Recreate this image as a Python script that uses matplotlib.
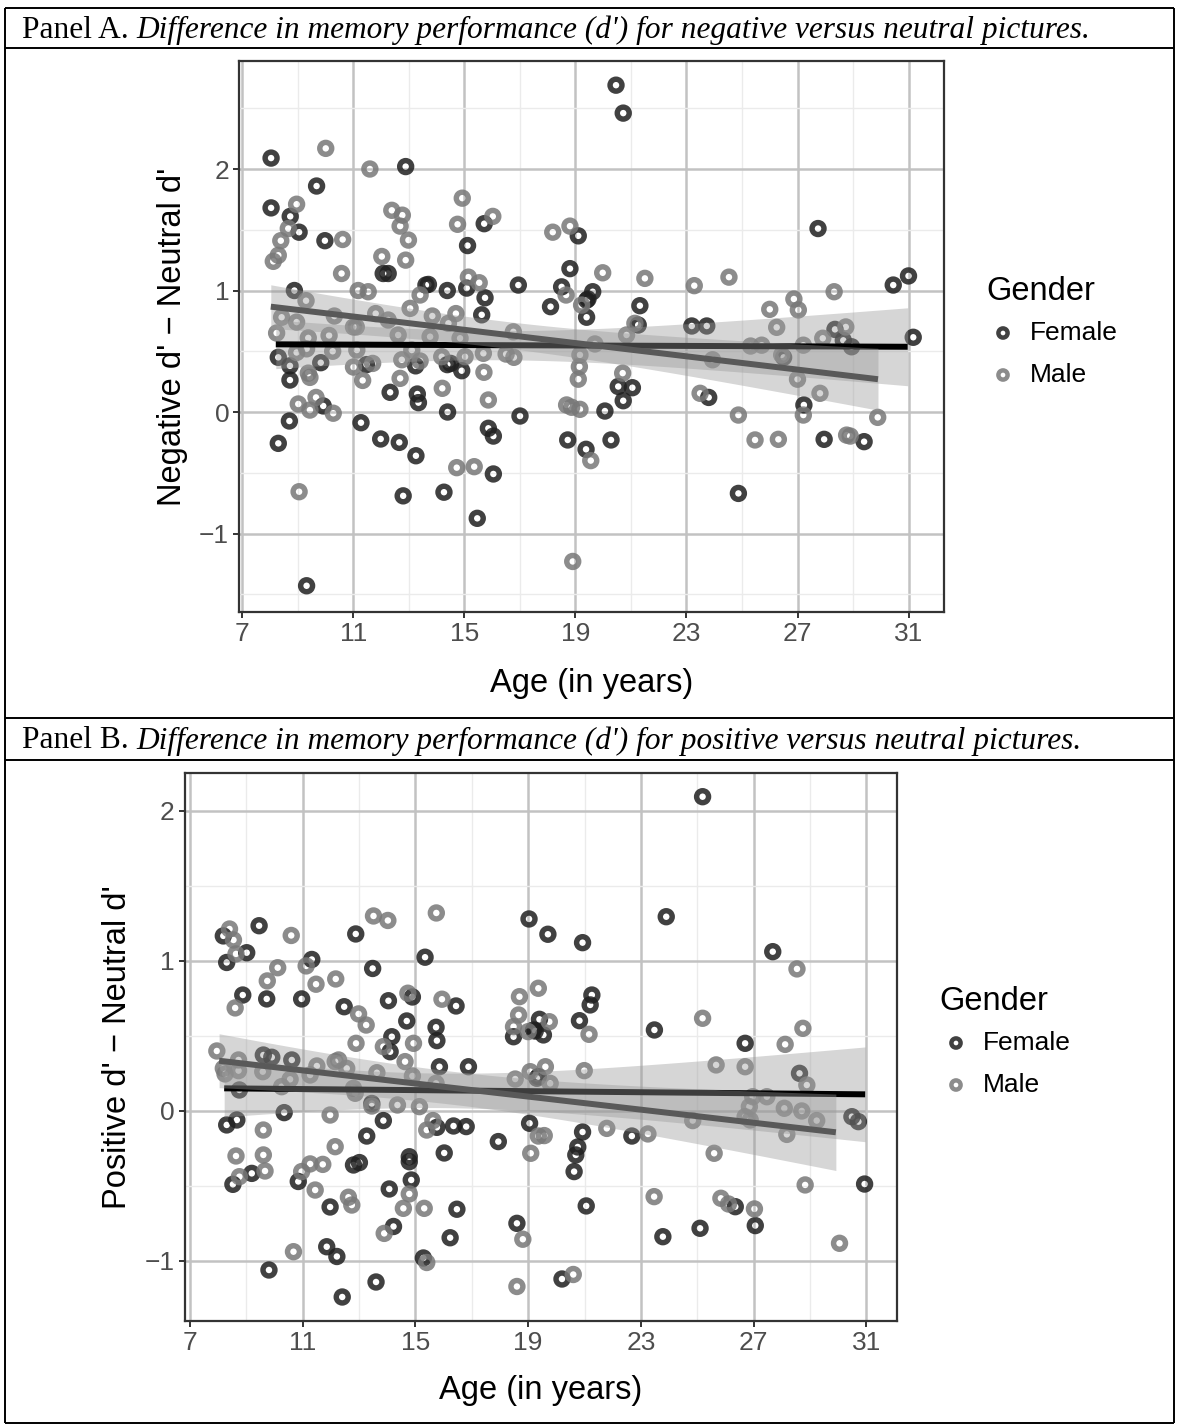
import numpy as np
import matplotlib
matplotlib.use('Agg')
import matplotlib.pyplot as plt

# ---------------- data ----------------
genders = ['Female', 'Male']

a_female_age = [8.03, 8.03, 8.72, 9.04, 9.67, 9.97, 12.07, 12.25, 12.88, 13.61, 13.70, 14.38, 15.08, 15.11,
                15.71, 15.74, 15.62, 16.94, 18.1, 18.5, 18.8, 19.1, 19.4, 19.45, 19.4, 19.62, 8.87, 20.46,
                20.72, 27.74, 30.45, 31.0, 21.32, 21.26, 23.19, 23.73, 28.35, 31.17, 8.29, 8.71, 8.71, 9.82,
                9.91, 8.69, 8.29, 9.31, 11.27, 11.47, 12.32, 11.98, 12.65, 13.25, 12.79, 13.24, 13.30, 13.34,
                14.38, 14.5, 14.9, 14.39, 14.26, 15.46, 15.86, 16.04, 16.04, 17.0, 18.72, 19.38, 20.28, 20.06,
                20.54, 21.05, 20.72, 23.8, 24.87, 27.23, 27.96, 29.40, 28.65, 28.95, 26.5]
a_female_val = [2.09, 1.68, 1.61, 1.48, 1.86, 1.41, 1.14, 1.14, 2.02, 1.045, 1.05, 1.00, 1.02, 1.37,
                1.55, 0.94, 0.80, 1.045, 0.867, 1.03, 1.18, 1.45, 0.92, 0.93, 0.78, 0.99, 1.0, 2.69,
                2.46, 1.51, 1.045, 1.12, 0.875, 0.716, 0.708, 0.708, 0.68, 0.615, 0.45, 0.38, 0.263, 0.406,
                0.05, -0.074, -0.258, -1.43, -0.088, 0.39, 0.162, -0.222, -0.25, -0.36, -0.69, 0.38, 0.148, 0.077,
                0.39, 0.40, 0.34, 0.0, -0.66, -0.875, -0.134, -0.198, -0.51, -0.033, -0.23, -0.307, -0.23, 0.008,
                0.21, 0.2, 0.093, 0.12, -0.67, 0.058, -0.225, -0.244, 0.59, 0.537, 0.45]

a_male_age = [10.0, 11.59, 8.95, 8.65, 8.38, 8.29, 8.11, 10.61, 10.57, 12.38, 12.76, 12.68, 12.98, 12.02,
              12.88, 14.92, 14.75, 16.02, 18.18, 18.80, 11.17, 11.53, 9.29, 8.41, 8.95, 8.23, 9.37, 10.12,
              10.31, 11.0, 11.1, 11.80, 12.25, 13.04, 13.40, 13.84, 14.42, 14.69, 15.14, 15.53, 12.61, 13.76,
              16.76, 18.66, 19.22, 19.98, 21.5, 23.28, 24.53, 26.87, 27.03, 26.0, 28.32, 26.25, 28.74, 20.84,
              21.14, 27.91, 8.95, 9.31, 10.25, 11.12, 11.0, 11.33, 11.69, 9.37, 9.43, 9.01, 9.43, 9.65,
              10.27, 9.04, 12.74, 12.68, 13.40, 13.10, 14.18, 14.2, 14.84, 15.02, 15.68, 15.70, 15.86, 14.72,
              15.35, 16.50, 16.78, 19.16, 19.14, 19.10, 18.68, 18.86, 19.16, 18.90, 19.55, 20.70, 23.49, 24.87,
              25.47, 26.31, 27.0, 27.81, 27.21, 28.77, 28.9, 29.89, 25.31, 25.71, 26.43, 27.21, 23.94, 19.70]
a_male_val = [2.17, 2.0, 1.71, 1.51, 1.41, 1.29, 1.24, 1.42, 1.14, 1.66, 1.62, 1.53, 1.415, 1.28,
              1.25, 1.76, 1.545, 1.61, 1.48, 1.53, 1.0, 0.99, 0.916, 0.78, 0.74, 0.65, 0.61, 0.63,
              0.79, 0.70, 0.70, 0.81, 0.757, 0.853, 0.963, 0.79, 0.73, 0.81, 1.11, 1.064, 0.634, 0.62,
              0.66, 0.963, 0.88, 1.146, 1.1, 1.04, 1.11, 0.93, 0.84, 0.845, 0.99, 0.697, 0.70, 0.634,
              0.73, 0.607, 0.49, 0.52, 0.50, 0.51, 0.37, 0.26, 0.40, 0.32, 0.285, 0.066, 0.016, 0.12,
              -0.01, -0.656, 0.43, 0.277, 0.42, 0.51, 0.455, 0.195, 0.607, 0.455, 0.483, 0.327, 0.099, -0.458,
              -0.45, 0.477, 0.45, 0.47, 0.373, 0.27, 0.058, 0.039, 0.022, -1.23, -0.40, 0.32, 0.154, -0.025,
              -0.23, -0.225, 0.27, 0.154, -0.025, -0.19, -0.198, -0.044, 0.543, 0.55, 0.47, 0.55, 0.43, 0.56]

b_female_age = [9.45, 8.18, 9.01, 8.30, 12.88, 11.32, 13.48, 15.34, 19.03, 8.87, 9.72, 10.96, 12.47, 14.04,
                14.89, 16.44, 25.19, 23.90, 19.70, 20.93, 27.68, 21.26, 21.20, 8.30, 8.66, 8.52, 9.19, 10.34,
                8.75, 9.60, 9.90, 10.61, 10.84, 11.97, 11.85, 12.21, 13.27, 13.45, 12.80, 13.01, 13.86, 14.07,
                14.22, 14.16, 14.10, 14.69, 14.78, 14.78, 14.85, 15.73, 15.76, 15.85, 15.76, 16.35, 16.80, 16.88,
                16.02, 16.47, 16.23, 17.94, 19.05, 18.60, 18.48, 19.19, 19.36, 15.28, 19.40, 19.25, 19.54, 20.82,
                23.48, 26.70, 28.63, 30.49, 30.72, 30.94, 20.93, 22.68, 20.76, 20.69, 20.63, 21.06, 23.78, 25.10,
                26.35, 27.06, 19.31, 9.8, 12.4, 13.6, 20.2]
b_female_val = [1.235, 1.167, 1.055, 0.99, 1.18, 1.01, 0.95, 1.025, 1.28, 0.773, 0.747, 0.747, 0.695, 0.735,
                0.76, 0.70, 2.095, 1.295, 1.178, 1.122, 1.062, 0.773, 0.707, -0.093, -0.06, -0.489, -0.416, -0.011,
                0.14, 0.373, 0.358, 0.34, -0.47, -0.64, -0.905, -0.97, -0.167, 0.05, -0.36, -0.344, -0.064, -0.52,
                -0.77, 0.495, 0.395, 0.60, -0.305, -0.338, -0.46, 0.558, 0.469, 0.295, -0.109, -0.1, -0.104, 0.295,
                -0.28, -0.655, -0.845, -0.204, -0.082, -0.749, 0.495, 0.54, 0.229, -0.98, 0.611, 0.533, 0.507, 0.602,
                0.54, 0.451, 0.251, -0.038, -0.071, -0.487, -0.14, -0.167, -0.24, -0.293, -0.404, -0.633, -0.838, -0.782,
                -0.638, -0.764, 0.218, -1.06, -1.24, -1.14, -1.12]

b_male_age = [8.40, 8.54, 8.63, 10.59, 13.51, 14.02, 15.74, 10.11, 11.12, 9.74, 11.47, 12.17, 14.73, 15.94,
              18.69, 19.36, 8.60, 28.54, 7.95, 8.18, 8.24, 8.72, 8.72, 9.58, 9.60, 8.63, 9.60, 9.66,
              8.75, 10.25, 10.55, 11.26, 11.50, 10.67, 10.96, 11.26, 11.71, 11.44, 11.97, 12.15, 12.15, 12.27,
              12.56, 12.80, 12.86, 12.98, 13.25, 12.89, 12.62, 12.74, 13.63, 13.45, 13.86, 14.36, 14.63, 14.93,
              14.89, 15.14, 15.40, 15.62, 14.57, 14.78, 15.31, 13.89, 15.73, 18.66, 18.48, 19.0, 18.54, 19.07,
              19.09, 18.81, 19.36, 19.75, 21.16, 25.19, 28.12, 28.75, 19.61, 20.99, 25.67, 26.70, 19.78, 28.89,
              27.47, 26.97, 26.85, 28.09, 28.71, 29.24, 28.18, 26.70, 26.88, 24.84, 21.79, 23.25, 19.57, 25.60,
              28.83, 23.47, 25.84, 26.11, 27.03, 30.05, 15.4, 18.6, 20.6]
b_male_val = [1.213, 1.14, 1.047, 1.17, 1.30, 1.27, 1.32, 0.955, 0.967, 0.867, 0.845, 0.88, 0.785, 0.745,
              0.762, 0.818, 0.687, 0.947, 0.40, 0.284, 0.247, 0.269, 0.34, 0.262, -0.127, -0.30, -0.293, -0.40,
              -0.438, 0.162, 0.211, 0.24, 0.30, -0.938, -0.404, -0.353, -0.356, -0.527, -0.027, -0.238, 0.329, 0.34,
              0.284, 0.151, 0.118, 0.647, 0.573, 0.451, -0.575, -0.627, 0.255, 0.033, 0.429, 0.04, 0.329, 0.451,
              0.233, 0.029, -0.127, -0.064, -0.649, -0.553, -0.649, -0.816, 0.184, 0.64, 0.562, 0.529, 0.213, 0.262,
              -0.282, -0.855, -0.167, 0.595, 0.511, 0.618, 0.444, 0.551, 0.295, 0.269, 0.307, 0.295, 0.184, 0.173,
              0.095, 0.095, 0.029, 0.018, 0.0, -0.064, -0.156, -0.038, -0.06, -0.064, -0.116, -0.153, -0.164, -0.282,
              -0.493, -0.571, -0.582, -0.62, -0.653, -0.882, -1.01, -1.17, -1.09]

# linear fits: [Female, Male]
fitA_x0 = [8.20, 8.02]; fitA_x1 = [30.97, 29.90]
fitA_y0 = [0.557, 0.867]; fitA_y1 = [0.537, 0.270]
ciA_center = [16.17, 16.40]; ciA_min = [0.120, 0.110]; ciA_slope = [0.0201, 0.0170]

fitB_x0 = [8.21, 8.03]; fitB_x1 = [30.96, 29.92]
fitB_y0 = [0.151, 0.335]; fitB_y1 = [0.111, -0.142]
ciB_center = [15.95, 16.40]; ciB_min = [0.115, 0.110]; ciB_slope = [0.0196, 0.0170]

x_ticks = [7, 11, 15, 19, 23, 27, 31]
y_ticks = [-1, 0, 1, 2]
y_tick_labels = ['\u22121', '0', '1', '2']

header_a_lead = 'Panel A. '
header_a_rest = "Difference in memory performance (d') for negative versus neutral pictures."
header_b_lead = 'Panel B. '
header_b_rest = "Difference in memory performance (d') for positive versus neutral pictures."
ylab_a = "Negative d' \u2212 Neutral d'"
ylab_b = "Positive d' \u2212 Neutral d'"
xlab = 'Age (in years)'
legend_title = 'Gender'

# ---------------- style ----------------
W, H = 1178, 1426
SANS = ['Liberation Sans', 'DejaVu Sans']
SERIF = ['Liberation Serif', 'DejaVu Serif']
pt_colors = {'Female': '#202020', 'Male': '#787878'}
line_colors = {'Female': '#000000', 'Male': '#595959'}
PT_ALPHA = 0.85
PT_S = 74
PT_LW = 3.9

fig = plt.figure(figsize=(W / 100, H / 100), dpi=100)
ov = fig.add_axes([0, 0, 1, 1])
ov.set_xlim(0, W)
ov.set_ylim(H, 0)
ov.axis('off')

# table borders
LW = 1.4
for y in [8, 47.5, 718, 760, 1423]:
    ov.plot([5, 1174], [y, y], color='black', lw=LW, solid_capstyle='butt')
for x in [5, 1174]:
    ov.plot([x, x], [8, 1423], color='black', lw=LW, solid_capstyle='butt')

renderer = fig.canvas.get_renderer()
HFS = 22.6


def header(lead, rest, ybase):
    t = ov.text(22, ybase, lead, family=SERIF, fontsize=HFS, va='baseline', ha='left')
    bb = t.get_window_extent(renderer)
    ov.text(bb.x1, ybase, rest, family=SERIF, style='italic', fontsize=HFS, va='baseline', ha='left')


header(header_a_lead, header_a_rest, 38)
header(header_b_lead, header_b_rest, 748.5)


def panel(rect, xlim, ylim, yminor, fa, fv, ma, mv, fx0, fx1, fy0, fy1, cc, cm, cs, ylab, ylab_x, xlab_y):
    ax = fig.add_axes(rect)
    ax.set_xlim(*xlim)
    ax.set_ylim(*ylim)
    ax.set_axisbelow(True)
    ax.set_xticks(x_ticks)
    ax.set_xticklabels([str(v) for v in x_ticks])
    ax.set_xticks([9, 13, 17, 21, 25, 29], minor=True)
    ax.set_yticks(y_ticks)
    ax.set_yticklabels(y_tick_labels)
    ax.set_yticks(yminor, minor=True)
    ax.grid(which='major', color='#c2c2c2', lw=1.8)
    ax.grid(which='minor', color='#ebebeb', lw=1.0)
    for s in ax.spines.values():
        s.set_color('#333333')
        s.set_linewidth(1.6)
    ax.tick_params(which='major', length=4.3, width=1.4, color='#333333', labelsize=19,
                   labelcolor='#4d4d4d', pad=3)
    ax.tick_params(which='minor', length=0)
    for lab in ax.get_xticklabels() + ax.get_yticklabels():
        lab.set_family(SANS)

    ax.scatter(fa, fv, s=PT_S, facecolors='none', edgecolors=pt_colors['Female'], linewidths=PT_LW,
               alpha=PT_ALPHA, zorder=2)
    ax.scatter(ma, mv, s=PT_S, facecolors='none', edgecolors=pt_colors['Male'], linewidths=PT_LW,
               alpha=PT_ALPHA, zorder=2)

    z = 3
    for i, g in enumerate(genders):
        xs = np.linspace(fx0[i], fx1[i], 120)
        ys = fy0[i] + (fy1[i] - fy0[i]) * (xs - fx0[i]) / (fx1[i] - fx0[i])
        hw = np.sqrt(cm[i] ** 2 + cs[i] ** 2 * (xs - cc[i]) ** 2)
        ax.fill_between(xs, ys - hw, ys + hw, color='#999999', alpha=0.4, lw=0, zorder=z)
        ax.plot(xs, ys, color=line_colors[g], lw=4.3, solid_capstyle='butt', zorder=z + 1)
        z += 2

    ax.set_ylabel(ylab, fontsize=23.5, family=SANS, color='black')
    ax.yaxis.set_label_coords(ylab_x, 0.5)
    ax.yaxis.label.set_verticalalignment('center')
    ax.set_xlabel(xlab, fontsize=23.5, family=SANS, color='black')
    ax.xaxis.set_label_coords(0.5, xlab_y)
    ax.xaxis.label.set_verticalalignment('center')
    return ax


axA = panel([239.3 / W, 1 - 612 / H, 705 / W, 551 / H], (6.885, 32.29), (-1.646, 2.889),
            [-1.5, -0.5, 0.5, 1.5, 2.5],
            a_female_age, a_female_val, a_male_age, a_male_val,
            fitA_x0, fitA_x1, fitA_y0, fitA_y1, ciA_center, ciA_min, ciA_slope,
            ylab_a, (172 - 239.3) / 705, (612 - 683) / 551)

axB = panel([185 / W, 1 - 1321 / H, 712 / W, 548 / H], (6.82, 32.09), (-1.40, 2.253),
            [-0.5, 0.5, 1.5],
            b_female_age, b_female_val, b_male_age, b_male_val,
            fitB_x0, fitB_x1, fitB_y0, fitB_y1, ciB_center, ciB_min, ciB_slope,
            ylab_b, (118 - 185) / 712, (1321 - 1390) / 548)


def legend(x_title, y_title, x_mark, x_text, ys):
    ov.text(x_title, y_title, legend_title, fontsize=23.5, family=SANS, va='center', ha='left')
    for g, y in zip(genders, ys):
        ov.scatter([x_mark], [y], s=44, facecolors='none', edgecolors=pt_colors[g], linewidths=3.2,
                   alpha=PT_ALPHA)
        ov.text(x_text, y, g, fontsize=19, family=SANS, va='center', ha='left')


legend(986, 291, 1003, 1030, [333, 375])
legend(939, 1001, 956, 983, [1043, 1085])

fig.savefig('out.png', dpi=100)
